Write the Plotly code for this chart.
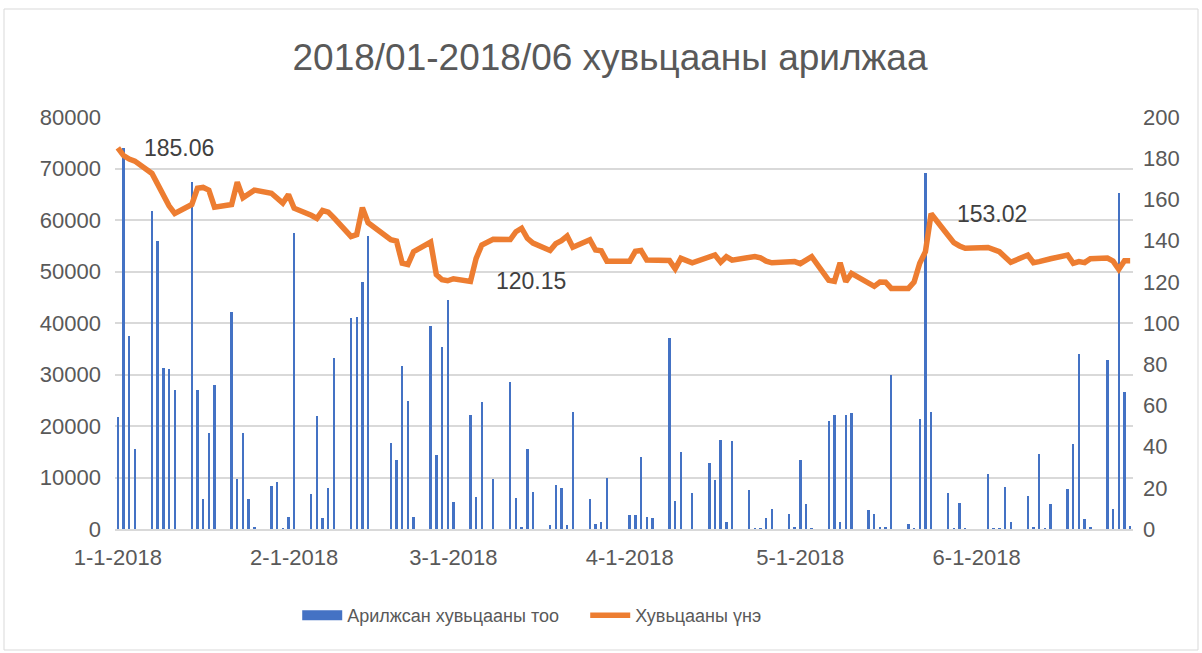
import plotly.graph_objects as go

# ---- data ----
dates = [
    "2018-01-01", "2018-01-02", "2018-01-03", "2018-01-04", "2018-01-07", "2018-01-08", "2018-01-09",
    "2018-01-10", "2018-01-11", "2018-01-14", "2018-01-15", "2018-01-16", "2018-01-17", "2018-01-18",
    "2018-01-21", "2018-01-22", "2018-01-23", "2018-01-24", "2018-01-25", "2018-01-28", "2018-01-29",
    "2018-01-30", "2018-01-31", "2018-02-01", "2018-02-04", "2018-02-05", "2018-02-06", "2018-02-07",
    "2018-02-08", "2018-02-11", "2018-02-12", "2018-02-13", "2018-02-14", "2018-02-18", "2018-02-19",
    "2018-02-20", "2018-02-21", "2018-02-22", "2018-02-25", "2018-02-26", "2018-02-27", "2018-02-28",
    "2018-03-01", "2018-03-04", "2018-03-05", "2018-03-06", "2018-03-08", "2018-03-11", "2018-03-12",
    "2018-03-13", "2018-03-14", "2018-03-15", "2018-03-18", "2018-03-19", "2018-03-20", "2018-03-21",
    "2018-03-22", "2018-03-25", "2018-03-26", "2018-03-27", "2018-03-28", "2018-04-01", "2018-04-02",
    "2018-04-03", "2018-04-04", "2018-04-05", "2018-04-08", "2018-04-09", "2018-04-10", "2018-04-12",
    "2018-04-15", "2018-04-16", "2018-04-17", "2018-04-18", "2018-04-19", "2018-04-22", "2018-04-23",
    "2018-04-24", "2018-04-25", "2018-04-26", "2018-04-29", "2018-04-30", "2018-05-01", "2018-05-02",
    "2018-05-03", "2018-05-06", "2018-05-07", "2018-05-08", "2018-05-09", "2018-05-10", "2018-05-13",
    "2018-05-14", "2018-05-15", "2018-05-16", "2018-05-17", "2018-05-20", "2018-05-21", "2018-05-22",
    "2018-05-23", "2018-05-24", "2018-05-27", "2018-05-28", "2018-05-29", "2018-05-30", "2018-06-03",
    "2018-06-04", "2018-06-05", "2018-06-06", "2018-06-07", "2018-06-10", "2018-06-11", "2018-06-12",
    "2018-06-13", "2018-06-14", "2018-06-17", "2018-06-18", "2018-06-19", "2018-06-20", "2018-06-21",
    "2018-06-24", "2018-06-25", "2018-06-26", "2018-06-27", "2018-06-28",
]

volume = [
    21700, 74050, 37480, 15480, 61820, 55850, 31250,
    31000, 27000, 67330, 27000, 5900, 18580, 27960,
    42170, 9650, 18700, 5830, 330, 8350, 9220,
    150, 2390, 57420, 6730, 21940, 2050, 7900,
    33140, 40910, 41100, 47900, 56840, 16700, 13460,
    31580, 24860, 2270, 39490, 14340, 35280, 44470,
    5180, 22040, 6250, 24600, 9650, 28610, 5960,
    300, 15480, 7220, 850, 8580, 7900, 720,
    22760, 5800, 970, 1270, 9870, 2690, 2800,
    14040, 2270, 2110, 37180, 5440, 14950, 6900,
    12750, 9520, 17280, 1390, 17060, 7570, 100,
    150, 2040, 3880, 2940, 450, 13340, 4860,
    100, 20970, 22050, 1300, 22050, 22500, 3690,
    2850, 200, 400, 30000, 970, 100, 21300,
    69200, 22660, 6900, 100, 5110, 100, 10680,
    100, 100, 8220, 1300, 6410, 200, 14570,
    100, 4860, 7770, 16600, 33990, 1940, 250,
    32820, 3880, 65190, 26510, 500,
]

price = [
    185.06, 181.3, 179.6, 178.6, 172.6, 167.5, 161.5,
    156.9, 153.2, 157.5, 165.4, 165.8, 164.5, 156.2,
    157.5, 168.4, 160.8, 162.8, 164.5, 163.0, 160.8,
    158.2, 162.3, 155.7, 152.3, 150.8, 154.6, 153.8,
    151.0, 142.0, 142.9, 156.0, 148.7, 140.4, 139.8,
    129.0, 128.4, 134.6, 139.3, 123.5, 121.0, 120.5,
    121.5, 120.15, 131.4, 137.9, 140.6, 140.5, 144.3,
    146.0, 141.1, 138.8, 135.2, 138.5, 140.0, 142.2,
    136.8, 140.4, 135.4, 135.0, 130.0, 130.0, 134.8,
    135.2, 130.6, 130.4, 130.3, 126.3, 131.4, 129.2,
    132.2, 133.0, 129.5, 132.2, 130.5, 131.4, 132.3,
    131.6, 130.0, 129.2, 129.9, 129.8, 128.8, 130.2,
    132.2, 120.7, 120.2, 129.2, 120.0, 124.1, 119.5,
    117.8, 119.9, 119.8, 116.8, 116.8, 119.8, 129.0,
    134.6, 153.02, 142.5, 139.0, 137.4, 136.3, 136.7,
    135.9, 134.6, 132.0, 129.5, 133.0, 129.3, 129.8,
    130.6, 131.2, 133.0, 129.0, 129.8, 129.3, 131.2,
    131.5, 130.0, 126.0, 130.2, 130.2,
]

labelled_dates = ["2018-01-01", "2018-03-04", "2018-05-24"]

tick_dates = ["2018-01-01", "2018-02-01", "2018-03-01", "2018-04-01", "2018-05-01", "2018-06-01"]
tick_text = ["1-1-2018", "2-1-2018", "3-1-2018", "4-1-2018", "5-1-2018", "6-1-2018"]

title_text = "2018/01-2018/06 хувьцааны арилжаа"
bar_name = "Арилжсан хувьцааны тоо"
line_name = "Хувьцааны үнэ"

# ---- styles ----
FONT = "Liberation Sans, Arial, sans-serif"
GREY = "#595959"
GRID = "#D9D9D9"
BLUE = "#4472C4"
ORANGE = "#ED7D31"
DAY_MS = 86400000

fig = go.Figure()
fig.add_trace(go.Bar(
    x=dates, y=volume, name=bar_name, showlegend=False,
    marker=dict(color=BLUE, line=dict(width=0)),
    width=0.42 * DAY_MS,
))
fig.add_trace(go.Scatter(
    x=dates, y=price, name=line_name, yaxis="y2", mode="lines",
    line=dict(color=ORANGE, width=5.5), legendrank=2,
))
# legend key for the bars drawn as a wide block, like the reference
fig.add_trace(go.Scatter(
    x=[None], y=[None], name=bar_name, mode="lines",
    line=dict(color=BLUE, width=12), legendrank=1, hoverinfo="skip",
))

annotations = []
for d in labelled_dates:
    v = price[dates.index(d)]
    annotations.append(dict(
        x=d, y=v, xref="x", yref="y2", text=f"{v:.2f}", showarrow=False,
        xanchor="left", yanchor="middle", xshift=24,
        font=dict(family=FONT, size=23, color="#404040"),
    ))

fig.update_layout(
    width=1202, height=653,
    paper_bgcolor="white", plot_bgcolor="white",
    margin=dict(l=115, r=69, t=117, b=124),
    font=dict(family=FONT, color=GREY),
    title=dict(
        text=title_text, xref="container", yref="container",
        x=0.5075, xanchor="center", y=0.912, yanchor="middle",
        font=dict(family=FONT, size=37, color=GREY),
    ),
    bargap=0,
    showlegend=True,
    legend=dict(
        orientation="h", xref="paper", yref="paper",
        x=0.179, xanchor="left", y=-0.21, yanchor="middle",
        font=dict(family=FONT, size=18, color=GREY),
        entrywidth=233, itemwidth=40, traceorder="normal",
        bgcolor="rgba(0,0,0,0)",
    ),
    xaxis=dict(
        type="date",
        range=["2017-12-31 12:00", "2018-06-28 12:00"],
        tickvals=tick_dates, ticktext=tick_text,
        tickfont=dict(family=FONT, size=22, color=GREY),
        showgrid=False, showline=True, linecolor=GRID, linewidth=1.5,
        ticks="", ticklabelstandoff=8, zeroline=False,
    ),
    yaxis=dict(
        range=[0, 80000], dtick=10000, tickformat="d",
        tickfont=dict(family=FONT, size=22, color=GREY),
        showgrid=True, gridcolor=GRID, gridwidth=1.5,
        zeroline=False, showline=False, ticks="", ticklabelstandoff=13,
    ),
    yaxis2=dict(
        range=[0, 200], dtick=20, overlaying="y", side="right",
        tickfont=dict(family=FONT, size=22, color=GREY),
        showgrid=False, zeroline=False, showline=False, ticks="", ticklabelstandoff=9,
    ),
    annotations=annotations,
    shapes=[dict(
        type="rect", xref="paper", yref="paper",
        x0=(4 - 115) / 1018, x1=(1198 - 115) / 1018,
        y0=(529 - 650) / 412, y1=1 + (117 - 9) / 412,
        line=dict(color=GRID, width=1), fillcolor="rgba(0,0,0,0)", layer="below",
    )],
)

fig.write_html(
    "out.html",
    config={"displayModeBar": False},
    post_script="document.body.style.margin='0';",
)
